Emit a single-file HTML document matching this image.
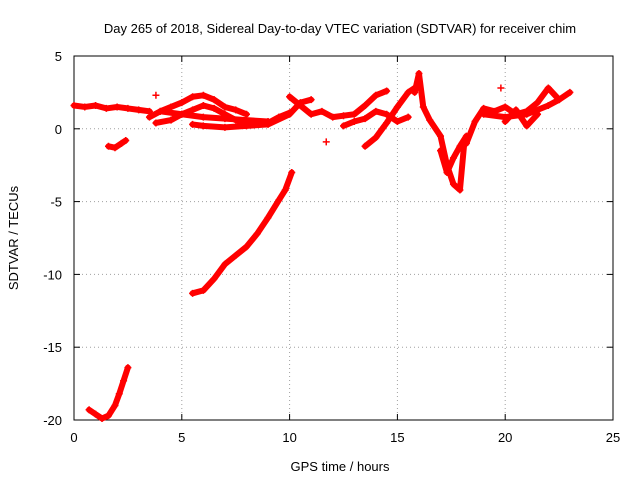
<!DOCTYPE html>
<html><head><meta charset="utf-8"><style>
body{margin:0;background:#fff;font-family:"Liberation Sans",sans-serif}
svg text{font-family:"Liberation Sans",sans-serif;font-size:13px;fill:#000}
</style></head><body>
<svg id="chart" width="640" height="480" viewBox="0 0 640 480">
<rect width="640" height="480" fill="#fff"/>
<text x="340" y="33" text-anchor="middle">Day 265 of 2018, Sidereal Day-to-day VTEC variation (SDTVAR) for receiver chim</text>
<g id="grid"></g><g id="axes"></g><g id="marks"></g>
<text x="340" y="471" text-anchor="middle">GPS time / hours</text>
<text transform="translate(18,238) rotate(-90)" text-anchor="middle">SDTVAR / TECUs</text>
</svg>
<script>
const xTicks=[0,5,10,15,20,25];
const yTicks=[5,0,-5,-10,-15,-20];
const trackX=[
[0.7,1.0,1.3,1.6,1.9,2.1,2.3,2.5],
[5.5,6.0,6.5,7.0,7.5,8.0,8.5,9.0,9.5,9.8,10.1],
[1.6,1.9,2.2,2.4],
[0,0.5,1,1.5,2,2.5,3,3.5],
[3.5,4,4.5,5,5.5,6,6.5,7,7.5,8],
[3.8,4.5,5,5.5,6,6.5,7,7.5,8,8.5,9,9.5,10],
[5.5,6,7,8,9,10,10.5,11],
[10,10.5,11,11.5,12,12.5,13,13.5,14,14.5],
[12.5,13,13.5,14,14.5,15,15.5],
[13.5,14,14.5,15,15.5,16],
[15.8,16,16.2,16.5,17,17.3,17.6,17.9,18.1],
[17,17.3,17.6,17.9,18.2],
[18.2,18.6,19,19.5,20,20.5,21,21.5,22,22.5,23],
[20,20.5,21,21.5],
[4,5,6,7,8,9],
[19,20,21,22,22.5]
];
const trackY=[
[-19.3,-19.6,-19.9,-19.7,-19.0,-18.2,-17.3,-16.4],
[-11.3,-11.1,-10.3,-9.3,-8.7,-8.1,-7.2,-6.1,-4.9,-4.2,-3.0],
[-1.2,-1.3,-1.0,-0.8],
[1.6,1.5,1.6,1.4,1.5,1.4,1.3,1.2],
[0.8,1.2,1.5,1.8,2.2,2.3,2.0,1.5,1.3,1.0],
[0.4,0.6,1.0,1.3,1.6,1.4,1.0,0.6,0.4,0.3,0.4,0.8,1.1],
[0.3,0.2,0.1,0.2,0.3,1.0,1.8,2.0],
[2.2,1.6,1.0,1.2,0.8,0.9,1.0,1.6,2.3,2.6],
[0.2,0.5,0.7,1.2,1.0,0.5,0.8],
[-1.2,-0.6,0.4,1.5,2.5,3.0],
[2.5,3.8,1.5,0.6,-0.5,-2.5,-3.8,-4.2,-1],
[-1.5,-3,-2,-1.2,-0.5],
[-1.0,0.5,1.4,1.2,1.5,1.0,1.2,1.8,2.8,2.0,2.5],
[0.5,1.3,0.2,1.0],
[1.2,1.0,0.8,0.7,0.6,0.5],
[1.0,0.8,1.0,1.6,2.0]
];
const isoX=[11.7,19.8,3.8];
const isoY=[-0.9,2.8,2.3];
const L=74,R=613,T=56,B=420;
const xs=v=>L+(v-0)/25*(R-L);
const ys=v=>T+(5-v)/25*(B-T);
const NS='http://www.w3.org/2000/svg';
function mk(tag,attrs,parent){const e=document.createElementNS(NS,tag);for(const k in attrs)e.setAttribute(k,attrs[k]);parent.appendChild(e);return e;}
const grid=document.getElementById('grid'),axes=document.getElementById('axes'),marks=document.getElementById('marks');
xTicks.forEach(t=>{const x=xs(t);
 if(t>0&&t<25){const g=mk('line',{x1:x,x2:x,y1:T,y2:B,stroke:'#a0a0a0','stroke-dasharray':'1,3'},grid);
 
 }
 mk('line',{x1:x,x2:x,y1:B,y2:B-6,stroke:'#000'},axes);mk('line',{x1:x,x2:x,y1:T,y2:T+6,stroke:'#000'},axes);
 const tx=mk('text',{x:x,y:B+22,'text-anchor':'middle'},axes);tx.textContent=t;
 
 });
yTicks.forEach(t=>{const y=ys(t);
 if(t<5&&t>-20){const g=mk('line',{x1:L,x2:R,y1:y,y2:y,stroke:'#a0a0a0','stroke-dasharray':'1,3'},grid);
 
 }
 mk('line',{x1:L,x2:L+6,y1:y,y2:y,stroke:'#000'},axes);mk('line',{x1:R,x2:R-6,y1:y,y2:y,stroke:'#000'},axes);
 const tx=mk('text',{x:L-12,y:y+5,'text-anchor':'end'},axes);tx.textContent=t;
 
 });
const fr=mk('rect',{x:L,y:T,width:R-L,height:B-T,fill:'none',stroke:'#000'},axes);


function plus(x,y){return `M${x-3.5},${y}h7M${x},${y-3.5}v7`;}
trackX.forEach((xa,i)=>{const ya=trackY[i];
 const pts=xa.map((v,j)=>xs(v)+','+ys(ya[j])).join(' ');
 const pl=mk('polyline',{points:pts,fill:'none',stroke:'#f00','stroke-width':6,'stroke-linejoin':'round','stroke-linecap':'round'},marks);
 
 
 let d='';xa.forEach((v,j)=>{d+=plus(xs(v),ys(ya[j]));});
 const p=mk('path',{d:d,stroke:'#f00','stroke-width':1.5,fill:'none'},marks);
 
 });
isoX.forEach((v,j)=>{const p=mk('path',{d:plus(xs(v),ys(isoY[j])),stroke:'#f00','stroke-width':1.5},marks);
 
 });
</script>
</body></html>
